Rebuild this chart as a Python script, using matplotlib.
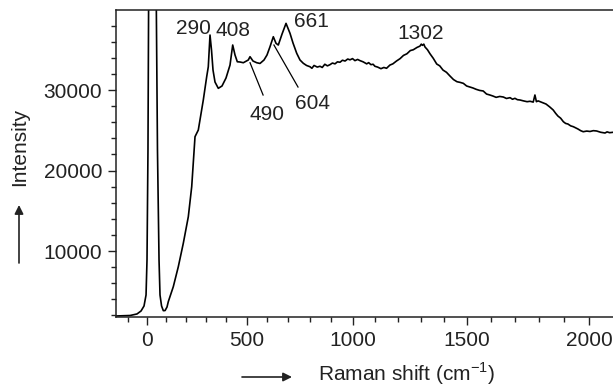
import numpy as np
import matplotlib
matplotlib.use('Agg')
import matplotlib.pyplot as plt
from matplotlib.patches import FancyArrowPatch
from matplotlib.ticker import MultipleLocator

plt.rcParams['font.family'] = ['Liberation Sans', 'DejaVu Sans']
plt.rcParams['mathtext.fontset'] = 'custom'
plt.rcParams['mathtext.rm'] = 'Liberation Sans'

# spectrometer axis is linear in wavelength (633 nm excitation)
NU_LASER = 15798.0

# ─── spectrum (Raman shift / cm-1, intensity) ───
shift = [-162, -120, -88, -52, -31, -15.5, -5, 0, 5, 8, 28, 48, 54, 62, 67,
         75, 84, 93, 103, 109.5, 135, 160.4, 185.7, 211, 228.1, 241.2, 244.7,
         261.2, 269.7, 286.2, 303.1, 311.1, 319.6, 327, 334.5, 344.4, 360.7,
         379, 398.7, 418.4, 431.6, 442.9, 454.1, 467.3, 483.4, 507.6, 515.9,
         530.4, 548.3, 564.2, 583.4, 597.8, 612.2, 628, 640.9, 651.8, 669.5,
         688.4, 707.3, 721.4, 738.9, 754.3, 769.8, 785, 801.2,
         810, 820, 835, 847.7, 858, 870, 882, 893.9, 905, 917, 928, 939.9,
         951, 963, 975, 985.5, 997, 1008, 1020, 1030.9,
         1045, 1061, 1070, 1080, 1090, 1098, 1110, 1125, 1138, 1150, 1165,
         1178, 1194, 1210, 1225, 1240, 1255, 1268, 1285, 1297, 1303, 1308,
         1314, 1319, 1330, 1341, 1355, 1370, 1383, 1397, 1412, 1427, 1442,
         1457, 1470, 1484, 1498, 1512, 1525, 1538, 1553, 1568, 1582, 1596,
         1609, 1622, 1637, 1652, 1665, 1680, 1690, 1700, 1710, 1721, 1735,
         1750, 1762, 1775, 1782, 1788, 1795, 1803, 1815, 1827, 1842, 1856,
         1866, 1875, 1886, 1897, 1906, 1915, 1926, 1937, 1946, 1955, 1966,
         1976, 1990, 2003, 2016, 2029, 2045, 2062, 2070, 2080, 2094, 2120]
intensity = [1930, 1960, 1990, 2180, 2550, 3170, 4540, 8890, 22550, 40500,
             80000, 40500, 22550, 8890, 4540, 3170, 2590, 2600, 3050, 3710,
             5570, 8050, 10960, 14260, 17990, 22960, 24200, 25030, 26270,
             28760, 31650, 32890, 36830, 34970, 32480, 30990, 30210, 30500,
             31490, 33100, 35590, 34350, 33510, 33480, 33390, 33730, 34140,
             33600, 33390, 33300, 33730, 34350, 35380, 36620, 35800, 35590,
             36950, 38280, 37040, 35840, 34560, 33730, 33320, 33050, 32890,
             32700, 33050, 32850, 32950, 32800, 33200, 33000, 33150, 33350,
             33250, 33500, 33450, 33700, 33600, 33850, 33750, 33900, 33650,
             33800, 33650,
             33500, 33250, 33400, 33150, 33200, 32950, 32850, 32650, 32800,
             32700, 33100, 33250, 33600, 33900, 34300, 34500, 34900, 35000,
             35300, 35450, 35700, 35550, 35700, 35350, 35000, 34500, 33940,
             33230, 33000, 32480, 32200, 31740, 31300, 31030, 30950, 30830,
             30500, 30370, 30250, 30090, 29950, 29880, 29500, 29380, 29250,
             29090, 29200, 29130, 28950, 29050, 28850, 28970, 28800, 28760,
             28650, 28550, 28600, 28500, 29380, 28550, 28650, 28550, 28400,
             28260, 27900, 27520, 27100, 26770, 26500, 26060, 25850, 25780,
             25550, 25440, 25300, 25160, 24950, 24820, 24900, 24850, 24950,
             24910, 24750, 24660, 24800, 24700, 24750, 24700]

# peak labels and their leader lines
peak_labels = ['290', '408', '661', '1302', '490', '604']
label_x = [235, 435, 808, 1302, 598, 815]
label_y = [37700, 37450, 38450, 37080, 27020, 28385]
leaders = {'490': ((516, 33390), (579, 29380)),
           '604': ((631, 35590), (745, 30370))}


def fwd(x):
    return 1e7 / (NU_LASER - np.asarray(x, dtype=float))


def inv(w):
    return NU_LASER - 1e7 / np.asarray(w, dtype=float)


fig = plt.figure(figsize=(6.13, 3.88), dpi=100)
ax = fig.add_axes([116 / 613, 1 - 316.7 / 388, 500 / 613, 306.7 / 388])
ax.set_xscale('function', functions=(fwd, inv))
ax.plot(shift, intensity, color='black', lw=1.2)

ax.set_xlim(-162.2, 2104.8)
ax.set_ylim(1840, 39940)
ax.xaxis.set_major_locator(MultipleLocator(500))
ax.xaxis.set_minor_locator(MultipleLocator(100))
ax.yaxis.set_major_locator(MultipleLocator(10000))
ax.yaxis.set_minor_locator(MultipleLocator(2000))
ax.tick_params(which='both', direction='out', width=1.0, labelsize=15,
               colors='#222222')
ax.tick_params(which='major', length=6, pad=4)
ax.tick_params(which='minor', length=3.8)
ax.spines['right'].set_visible(False)
for sp in ['left', 'bottom', 'top']:
    ax.spines[sp].set_linewidth(1.1)
    ax.spines[sp].set_color('#222222')

for lab, x, y in zip(peak_labels, label_x, label_y):
    ax.text(x, y, lab, ha='center', va='center', fontsize=15, color='#222222')
for (x0, y0), (x1, y1) in leaders.values():
    ax.plot([x0, x1], [y0, y1], color='black', lw=0.9)

# axis labels with the arrows beside them
fig.text(20 / 613, 1 - 147 / 388, 'Intensity', rotation=90, ha='center',
         va='center', fontsize=15, color='#222222')
fig.text(318 / 613, 1 - 381 / 388, 'Raman shift (cm$^{-1}$)', ha='left',
         va='baseline', fontsize=15, color='#222222')
arrow = dict(arrowstyle='-|>', lw=1.2, color='#222222', mutation_scale=13,
             shrinkA=0, shrinkB=0)
fig.add_artist(FancyArrowPatch((19 / 613, 1 - 263 / 388),
                               (19 / 613, 1 - 205 / 388),
                               transform=fig.transFigure, **arrow))
fig.add_artist(FancyArrowPatch((242 / 613, 1 - 377 / 388),
                               (292 / 613, 1 - 377 / 388),
                               transform=fig.transFigure, **arrow))

fig.savefig('out.png', dpi=100)
